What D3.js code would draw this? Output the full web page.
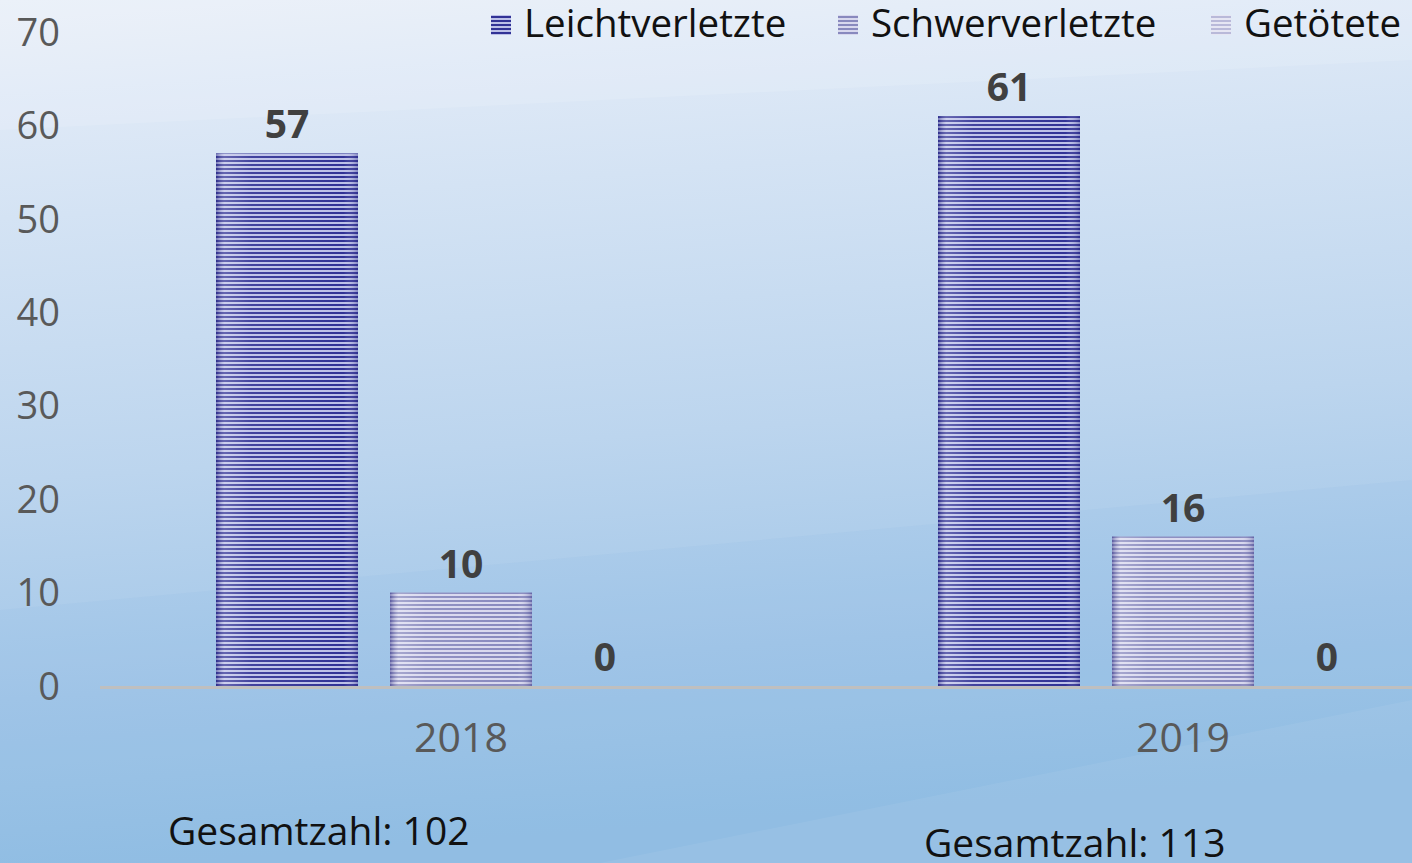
<!DOCTYPE html>
<html><head><meta charset="utf-8">
<script src="https://cdn.jsdelivr.net/npm/d3@7"></script>
<style>html,body{margin:0;padding:0;overflow:hidden;background:#fff}svg{display:block}text{font-family:"Open Sans","Noto Sans",sans-serif}</style>
</head><body>
<svg id="c" width="1412" height="863"></svg>
<script>
const categories = ["2018", "2019"];
const seriesNames = ["Leichtverletzte", "Schwerverletzte", "Getötete"];
const leicht = [57, 61];
const schwer = [10, 16];
const getoetet = [0, 0];
const totals = ["Gesamtzahl: 102", "Gesamtzahl: 113"];
const yTicks = [0, 10, 20, 30, 40, 50, 60, 70];

const W = 1412, H = 863;
const svg = d3.select("#c");
const defs = svg.append("defs");

// background
const bg = defs.append("linearGradient").attr("id","bg").attr("x1","0").attr("y1","0").attr("x2","0.12").attr("y2","1");
[["0%","#e9eff9"],["25%","#d4e3f4"],["55%","#bcd5ee"],["80%","#a3c7e8"],["100%","#93bfe4"]].forEach(s=>bg.append("stop").attr("offset",s[0]).attr("stop-color",s[1]));
svg.append("rect").attr("width",W).attr("height",H).attr("fill","url(#bg)");
svg.append("path").attr("d","M0,130 L1412,60 L1412,0 L0,0 Z").attr("fill","#ffffff").attr("opacity",0.12);
svg.append("path").attr("d","M0,610 L1412,480 L1412,863 L0,863 Z").attr("fill","#7fb2df").attr("opacity",0.10);
svg.append("path").attr("d","M600,863 L1412,700 L1412,863 Z").attr("fill","#ffffff").attr("opacity",0.06);

// stripe patterns
const pats = [
  {id:"p0", dark:"#313296", light:"#bcc0e8"},
  {id:"p1", dark:"#8889be", light:"#d8d8ee"},
  {id:"p2", dark:"#b9b9d9", light:"#e6e6f3"}
];
pats.forEach(p=>{
  const pt = defs.append("pattern").attr("id",p.id).attr("patternUnits","userSpaceOnUse").attr("width",8).attr("height",4);
  pt.append("rect").attr("width",8).attr("height",4).attr("fill",p.light);
  pt.append("rect").attr("width",8).attr("height",2).attr("fill",p.dark);
});
const eg = defs.append("linearGradient").attr("id","edge").attr("x1","0").attr("x2","1");
[["0%","#20207a",0.45],["6%","#ffffff",0.25],["25%","#ffffff",0.08],["90%","#ffffff",0],["100%","#20207a",0.35]].forEach(s=>eg.append("stop").attr("offset",s[0]).attr("stop-color",s[1]).attr("stop-opacity",s[2]));

const x0 = d3.scaleBand().domain(categories).range([100, 1544]);
const x1 = d3.scaleBand().domain(seriesNames).range([100, 622]).paddingInner(0.184).paddingOuter(0.092);
const y = d3.scaleLinear().domain([0, 70]).range([686, 32]);

const seriesVals = [leicht, schwer, getoetet];

svg.append("g").selectAll("text").data(yTicks).join("text")
  .attr("x", 60).attr("y", d=>y(d)).attr("dy","0.36em").attr("text-anchor","end")
  .attr("font-size", 38).attr("fill","#595959").text(d=>d);

categories.forEach((c, ci)=>{
  seriesNames.forEach((s, si)=>{
    const v = seriesVals[si][ci];
    const bx = x0(c) + x1(s), bw = x1.bandwidth();
    if (v > 0) {
      svg.append("rect").attr("x",bx).attr("y",y(v)).attr("width",bw).attr("height",y(0)-y(v)).attr("fill","url(#"+pats[si].id+")");
      svg.append("rect").attr("x",bx).attr("y",y(v)).attr("width",bw).attr("height",y(0)-y(v)).attr("fill","url(#edge)");
    }
    svg.append("text").attr("x", bx + bw/2 + (v===0 ? -30 : 0)).attr("y", y(v) - 15)
      .attr("text-anchor","middle").attr("font-size",39).attr("font-weight","bold").attr("fill","#404040").text(v);
  });
});

svg.append("line").attr("x1",100).attr("x2",W).attr("y1",y(0)+1.5).attr("y2",y(0)+1.5).attr("stroke","#bfbfbf").attr("stroke-width",3);

svg.append("g").selectAll("text").data(categories).join("text")
  .attr("x", d=>x0(d)+361).attr("y", 752).attr("text-anchor","middle").attr("font-size",41).attr("fill","#595959").text(d=>d);

svg.append("text").attr("x",168).attr("y",845).attr("font-size",39).attr("fill","#111").text(totals[0]);
svg.append("text").attr("x",924).attr("y",857).attr("font-size",39).attr("fill","#111").text(totals[1]);

const legX = [491, 838, 1211];
seriesNames.forEach((s,i)=>{
  svg.append("rect").attr("x",legX[i]).attr("y",15).attr("width",20).attr("height",20).attr("fill","url(#"+pats[i].id+")");
  svg.append("text").attr("x",legX[i]+33).attr("y",37).attr("font-size",38.5).attr("fill","#111").text(s);
});
</script>
</body></html>
